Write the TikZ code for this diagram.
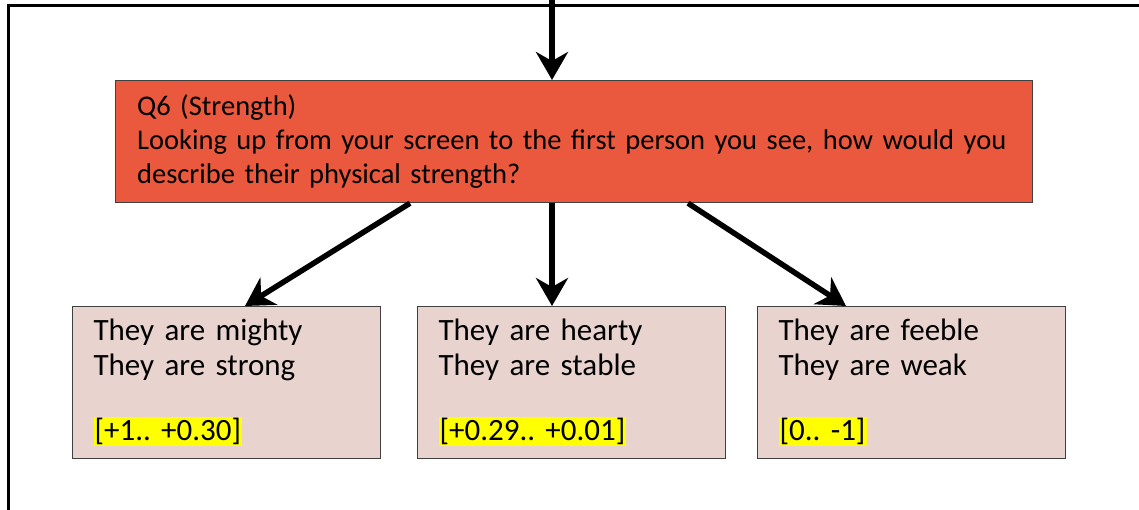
\documentclass[tikz,border=0pt]{standalone}
\usepackage{fontspec}
\setmainfont{Carlito}
\usetikzlibrary{arrows.meta,positioning}

\definecolor{qred}{RGB}{234,88,61}
\definecolor{apink}{RGB}{232,211,207}
\definecolor{hlyellow}{RGB}{255,255,0}
\newcommand{\hl}[1]{{\setlength{\fboxsep}{1pt}\colorbox{hlyellow}{#1}}}

\begin{document}
\frenchspacing
\begin{tikzpicture}[x=1pt,y=-1pt,>={Stealth[length=28pt,width=32pt,inset=9pt]},
    question/.style={draw=black!75,line width=1.2pt,fill=qred,anchor=north west,
      minimum width=917pt,minimum height=122pt,text width=874pt,align=left,inner sep=0pt,
      font=\fontsize{28.5}{34}\selectfont},
    answer/.style={draw=black!75,line width=1.2pt,fill=apink,anchor=north west,
      minimum width=308pt,minimum height=152pt,text width=266pt,align=left,inner sep=0pt,
      font=\fontsize{31}{35}\selectfont},
    arr/.style={->,line width=5.5pt}]
  \useasboundingbox (0,0) rectangle (1139,510);
  \draw[line width=3pt] (8,510) -- (8,6) -- (1139,6);

  \node[question] (Q) at (115,80) {Q6 (Strength)\\Looking up from your screen to the first person you see, how would you\\describe their physical strength?};

  \node[answer] (A) at (72,306)  {They are mighty\\They are strong\\[30pt]\hl{[+1.. +0.30]}};
  \node[answer] (B) at (417,306) {They are hearty\\They are stable\\[30pt]\hl{[+0.29.. +0.01]}};
  \node[answer] (C) at (757,306) {They are feeble\\They are weak\\[30pt]\hl{[0.. -1]}};

  \coordinate (top) at (552,0);
  \draw[arr] (top) -- (top |- Q.north);
  \draw[arr] ([xshift=295pt]Q.south west) -- ([xshift=173pt]A.north west);
  \draw[arr] (top |- Q.south) -- (top |- B.north);
  \draw[arr] ([xshift=573pt]Q.south west) -- ([xshift=89pt]C.north west);
\end{tikzpicture}
\end{document}
